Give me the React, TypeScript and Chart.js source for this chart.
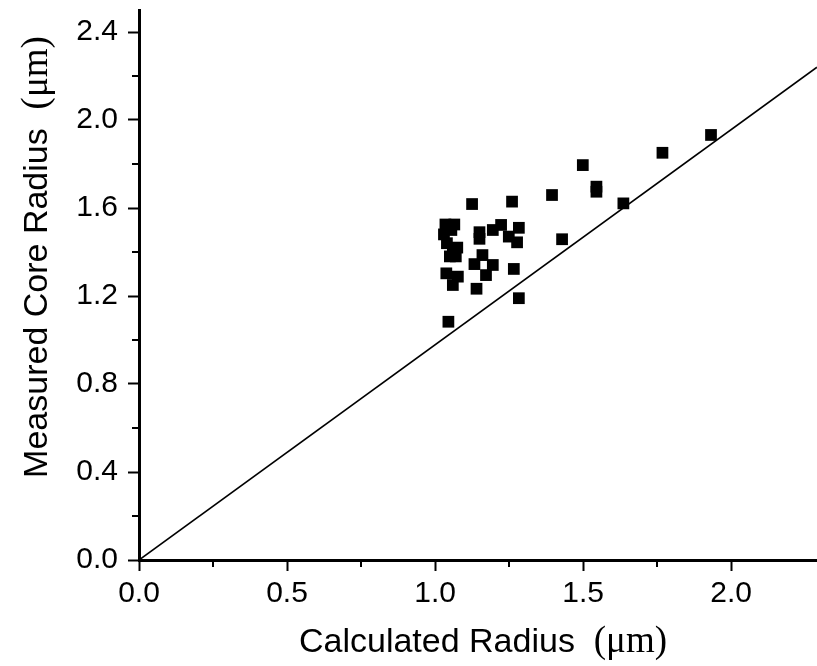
import React, { useEffect, useRef } from 'react';
import { Chart, registerables } from 'chart.js';

Chart.register(...registerables);

// Data
const calculatedRadius = [
  1.045, 1.283, 1.140, 1.038, 1.077, 1.060, 1.133, 1.160, 1.195, 1.172,
  1.266, 1.150, 1.150, 1.195, 1.223, 1.249, 1.277, 1.283, 1.125, 1.260,
  1.395, 1.429, 1.499, 1.545, 1.545, 1.636, 1.768, 1.932,
  1.035, 1.065, 1.030, 1.040, 1.060, 1.075, 1.050, 1.070, 1.055,
];
const measuredCoreRadius = [
  1.083, 1.190, 1.233, 1.303, 1.288, 1.250, 1.345, 1.386, 1.341, 1.295,
  1.323, 1.490, 1.460, 1.500, 1.523, 1.470, 1.444, 1.510, 1.618, 1.629,
  1.659, 1.458, 1.795, 1.697, 1.674, 1.621, 1.851, 1.932,
  1.525, 1.525, 1.480, 1.440, 1.410, 1.420, 1.380, 1.380, 1.500,
];
const refLineX = [0, 2.29];
const refLineY = [0, 2.24];

const xTickValues = [0, 0.5, 1.0, 1.5, 2.0];
const yTickValues = [0, 0.4, 0.8, 1.2, 1.6, 2.0, 2.4];
const xRange = [0, 2.29];
const yRange = [0, 2.5];

const xTitle = 'Calculated Radius';
const yTitle = 'Measured Core Radius';
const unitText = '(\u03BCm)';

const SANS = '"Liberation Sans", Arial, sans-serif';
const SERIF = '"Liberation Serif", "Times New Roman", serif';

const minorTickPlugin = {
  id: 'minorTicks',
  afterDraw(chart: any) {
    const ctx = chart.ctx;
    const { left, bottom } = chart.chartArea;
    ctx.save();
    ctx.strokeStyle = '#000';
    ctx.lineWidth = 2;
    const xs = chart.scales.x;
    for (let i = 0; i < xTickValues.length - 1; i++) {
      const v = (xTickValues[i] + xTickValues[i + 1]) / 2;
      const px = Math.round(xs.getPixelForValue(v));
      ctx.beginPath();
      ctx.moveTo(px, bottom);
      ctx.lineTo(px, bottom + 7);
      ctx.stroke();
    }
    const ys = chart.scales.y;
    for (let i = 0; i < yTickValues.length - 1; i++) {
      const v = (yTickValues[i] + yTickValues[i + 1]) / 2;
      const py = Math.round(ys.getPixelForValue(v));
      ctx.beginPath();
      ctx.moveTo(left, py);
      ctx.lineTo(left - 7, py);
      ctx.stroke();
    }
    ctx.restore();
  },
};

const titlePlugin = {
  id: 'mixedTitles',
  afterDraw(chart: any) {
    const ctx = chart.ctx;
    const { left, right, top, bottom } = chart.chartArea;
    const sansFont = `34px ${SANS}`;
    const serifFont = `37px ${SERIF}`;
    ctx.save();
    ctx.fillStyle = '#000';
    ctx.textAlign = 'left';
    ctx.textBaseline = 'alphabetic';

    // X title
    ctx.font = sansFont;
    const xw1 = ctx.measureText(xTitle + '  ').width;
    ctx.font = serifFont;
    const xw2 = ctx.measureText(unitText).width;
    const xcx = (left + right) / 2 + 5;
    const xsx = xcx - (xw1 + xw2) / 2;
    const xBase = bottom + 92;
    ctx.font = sansFont;
    ctx.fillText(xTitle + '  ', xsx, xBase);
    ctx.font = serifFont;
    ctx.fillText(unitText, xsx + xw1, xBase);

    // Y title (rotated)
    ctx.font = sansFont;
    const yw1 = ctx.measureText(yTitle + '  ').width;
    ctx.font = serifFont;
    const yw2 = ctx.measureText(unitText).width;
    const ycy = (top + bottom) / 2 - 28;
    ctx.translate(left - 92, ycy);
    ctx.rotate(-Math.PI / 2);
    const ysx = -(yw1 + yw2) / 2;
    ctx.font = sansFont;
    ctx.fillText(yTitle + '  ', ysx, 0);
    ctx.font = serifFont;
    ctx.fillText(unitText, ysx + yw1, 0);
    ctx.restore();
  },
};

export default function App() {
  const canvasRef = useRef<HTMLCanvasElement | null>(null);

  useEffect(() => {
    if (!canvasRef.current) return;
    const points = calculatedRadius.map((x, i) => ({ x, y: measuredCoreRadius[i] }));
    const line = refLineX.map((x, i) => ({ x, y: refLineY[i] }));
    const tickFont = { family: SANS, size: 30 };

    const chart = new Chart(canvasRef.current, {
      type: 'scatter',
      data: {
        datasets: [
          {
            data: line,
            showLine: true,
            pointRadius: 0,
            borderColor: '#000',
            borderWidth: 1.6,
            backgroundColor: '#000',
            order: 2,
          },
          {
            data: points,
            pointStyle: 'rect',
            pointRadius: 8.3,
            pointHoverRadius: 8.3,
            borderWidth: 0,
            backgroundColor: '#000',
            borderColor: '#000',
            order: 1,
          },
        ],
      },
      options: {
        animation: false,
        responsive: false,
        events: [],
        layout: { autoPadding: false, padding: { top: 10, right: 0, left: 0, bottom: 0 } },
        plugins: {
          legend: { display: false },
          tooltip: { enabled: false },
          title: { display: false },
        },
        scales: {
          x: {
            type: 'linear',
            min: xRange[0],
            max: xRange[1],
            afterBuildTicks: (scale: any) => {
              scale.ticks = xTickValues.map((value) => ({ value }));
            },
            afterFit: (scale: any) => {
              scale.height = 106;
              scale.paddingLeft = 0;
              scale.paddingRight = 0;
            },
            ticks: {
              font: tickFont,
              color: '#000',
              padding: 5,
              maxRotation: 0,
              autoSkip: false,
              callback: (v: any) => Number(v).toFixed(1),
            },
            grid: {
              display: true,
              drawOnChartArea: false,
              drawTicks: true,
              tickLength: 11,
              tickWidth: 2,
              tickColor: '#000',
            },
            border: { display: true, color: '#000', width: 3 },
            title: { display: false },
          },
          y: {
            type: 'linear',
            min: yRange[0],
            max: yRange[1],
            afterBuildTicks: (scale: any) => {
              scale.ticks = yTickValues.map((value) => ({ value }));
            },
            afterFit: (scale: any) => {
              scale.width = 139;
              scale.paddingTop = 0;
              scale.paddingBottom = 0;
            },
            ticks: {
              font: tickFont,
              color: '#000',
              padding: 10,
              autoSkip: false,
              callback: (v: any) => Number(v).toFixed(1),
            },
            grid: {
              display: true,
              drawOnChartArea: false,
              drawTicks: true,
              tickLength: 11,
              tickWidth: 2,
              tickColor: '#000',
            },
            border: { display: true, color: '#000', width: 3 },
            title: { display: false },
          },
        },
      },
      plugins: [minorTickPlugin, titlePlugin],
    } as any);

    return () => {
      chart.destroy();
    };
  }, []);

  return (
    <div style={{ position: 'absolute', left: 0, top: 0, width: 817, height: 666, background: '#fff' }}>
      <canvas ref={canvasRef} width={817} height={666} style={{ display: 'block' }} />
    </div>
  );
}
